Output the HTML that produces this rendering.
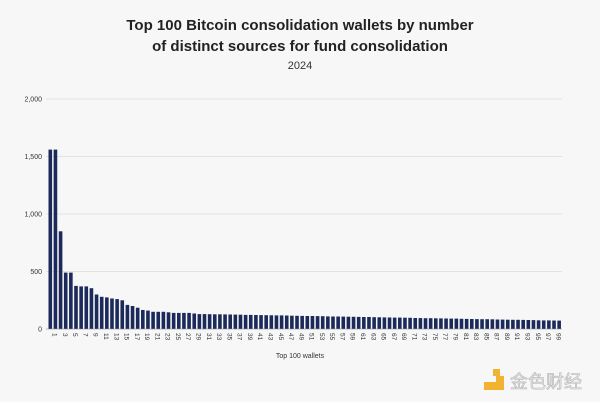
<!DOCTYPE html>
<html><head><meta charset="utf-8"><style>
body{margin:0;background:#f7f7f7;}
svg{display:block;font-family:"Liberation Sans",sans-serif;}
</style></head><body>
<svg id="s" width="600" height="402" viewBox="0 0 600 402">
<rect width="600" height="402" fill="#f7f7f7"/>
<text x="300" y="30" text-anchor="middle" font-size="15" font-weight="bold" fill="#222">Top 100 Bitcoin consolidation wallets by number</text>
<text x="300" y="51" text-anchor="middle" font-size="15" font-weight="bold" fill="#222">of distinct sources for fund consolidation</text>
<text x="300" y="69" text-anchor="middle" font-size="11" fill="#333">2024</text>
<g id="g"></g>
<text x="300" y="358" text-anchor="middle" font-size="7" fill="#333">Top 100 wallets</text>
<rect x="484" y="376" width="20" height="14" fill="#f2b330"/>
<rect x="484" y="376" width="12" height="6" fill="#f7f7f7"/>
<rect x="493" y="369" width="7" height="7" fill="#f2b330"/>
<text x="510" y="388" font-size="18" fill="#e8e8e8" stroke="#b5b5b5" stroke-width="0.6" font-family="'Noto Sans CJK SC',sans-serif">金色财经</text>
</svg>
<script>
var g=document.getElementById('g'),h='';
var y0=329,sc=0.115;
[[0,'0'],[500,'500'],[1000,'1,000'],[1500,'1,500'],[2000,'2,000']].forEach(function(t){
 var y=y0-t[0]*sc;
 h+='<line x1="46" x2="562" y1="'+y+'" y2="'+y+'" stroke="#ddd" stroke-width="0.8"/>';
 h+='<text x="42" y="'+(y+2.5)+'" text-anchor="end" font-size="7" fill="#333">'+t[1]+'</text>';
});
var v=[1560,1560,850,490,490,375,370,370,355,300,280,275,265,260,250,210,200,185,165,160,150,150,150,145,140,140,140,140,135,130];
for(var i=30;i<100;i++){v.push(Math.round(130-(i-30)*(57/69)));}
for(var i=0;i<100;i++){
 var x=48.5+i*5.14, hh=v[i]*sc;
 h+='<rect x="'+x.toFixed(2)+'" y="'+(y0-hh).toFixed(1)+'" width="3.6" height="'+hh.toFixed(1)+'" fill="#1b2a5a"/>';
 if(i%2==0){var cx=x+1.8;h+='<text transform="translate('+(cx+2.3).toFixed(2)+',333) rotate(90)" font-size="6.5" fill="#333">'+(i+1)+'</text>';}
}
h+='<line x1="46" x2="562" y1="329" y2="329" stroke="#999" stroke-width="0.6"/>';
g.innerHTML=h;
</script>
</body></html>
